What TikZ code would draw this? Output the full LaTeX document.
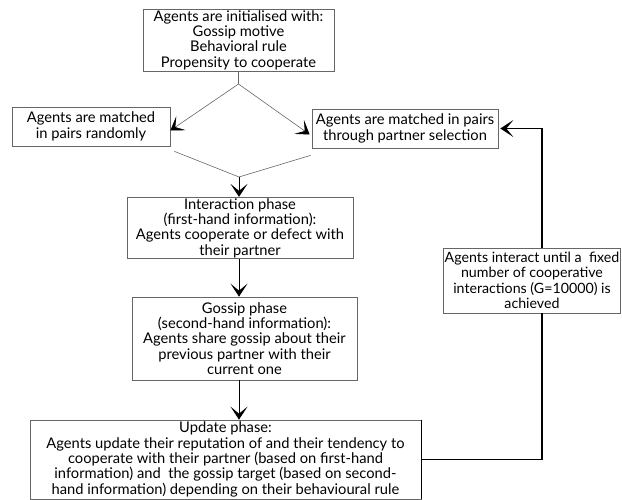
\documentclass[tikz,border=0pt]{standalone}
\usepackage{fontspec}
\setmainfont{Lato}
\usetikzlibrary{arrows.meta}

\tikzset{
  stepbox/.style={draw=black!60, line width=0.7pt, align=center, inner sep=1pt,
    font=\fontsize{14.7}{15.4}\selectfont},
  flowarrow/.style={line width=1pt, -{Stealth[length=13pt,width=17pt,inset=7pt]}},
  splitline/.style={draw=black!60, line width=0.6pt},
  splitarrow/.style={splitline, -{Stealth[length=13pt,width=17pt,inset=7pt,black]}},
  loopline/.style={line width=1.3pt}
}

\begin{document}
\begin{tikzpicture}[x=1pt,y=1pt,yscale=-1,xscale=1]
\useasboundingbox (0,0) rectangle (622,500);

% Boxes
\node[stepbox, minimum width=191pt, minimum height=62pt] (init) at (238.5,40) {Agents are initialised with:\\Gossip motive\\Behavioral rule\\Propensity to cooperate};
\node[stepbox, minimum width=158pt, minimum height=39pt] (random) at (91,126.5) {Agents are matched\\in pairs randomly};
\node[stepbox, minimum width=186pt, minimum height=39pt] (select) at (405,128.5) {Agents are matched in pairs\\through partner selection};
\node[stepbox, minimum width=226pt, minimum height=60pt] (interact) at (240,228) {Interaction phase\\(first-hand information):\\Agents cooperate or defect with\\their partner};
\node[stepbox, minimum width=225pt, minimum height=83pt] (gossip) at (244.5,338.5) {Gossip phase\\(second-hand information):\\Agents share gossip about their\\previous partner with their\\current one};
\node[stepbox, minimum width=391pt, minimum height=79pt] (update) at (225.5,459.5) {Update phase:\\Agents update their reputation of and their tendency to\\cooperate with their partner (based on first-hand\\information) and\ \ the gossip target (based on second-\\hand information) depending on their behavioural rule};
\node[stepbox, minimum width=177pt, minimum height=65pt, inner sep=0.5pt, font=\fontsize{14.2}{15.4}\selectfont] (until) at (532,280.5) {Agents interact until a\ \ fixed\\number of cooperative\\interactions (G=10000) is\\achieved};
\draw[line width=1.6pt] (update.north east) -- (update.south east);

% Split and merge points
\coordinate (split) at (238.5,84);
\coordinate (merge) at (239,177);
\coordinate (loopbot) at (542,459.5);
\coordinate (looptop) at (542,128.5);

% Split
\draw[splitline] (init.south) -- (split);
\draw[splitarrow] (split) -- ([yshift=4pt]random.east);
\draw[splitarrow] (split) -- ([yshift=6pt,xshift=-2pt]select.west);

% Merge
\draw[splitline] ([xshift=4pt,yshift=5pt]random.south east) -- (merge);
\draw[splitline] ([xshift=-1pt,yshift=7pt]select.south west) -- (merge);
\draw[flowarrow] (merge) -- (merge |- interact.north);

% Phases
\draw[flowarrow] (merge |- interact.south) -- (merge |- gossip.north);
\draw[flowarrow] (merge |- gossip.south) -- (merge |- update.north);

% Loop back
\draw[loopline] (update.east) -- (loopbot) -- (loopbot |- until.south);
\draw[loopline, -{Stealth[length=13pt,width=17pt,inset=7pt]}] (loopbot |- until.north) -- (looptop) -- ([xshift=2pt]select.east);

\end{tikzpicture}
\end{document}
